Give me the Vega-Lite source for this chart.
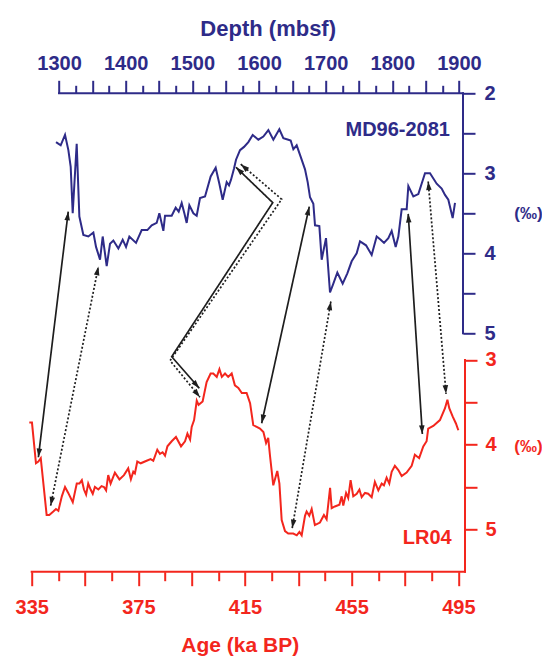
{
  "$schema": "https://vega.github.io/schema/vega-lite/v6.json",
  "width": 433.3,
  "height": 478.4,
  "autosize": {"type": "none"},
  "padding": {"left": 31.7, "top": 93.3, "right": 77, "bottom": 84.3},
  "config": {"view": {"stroke": null}, "font": "Liberation Sans", "axis": {"grid": false}},
  "datasets": {
    "md96": [
      {"depth": 1295.5, "d18O": 2.61}, {"depth": 1302.5, "d18O": 2.65}, {"depth": 1309, "d18O": 2.52}, {"depth": 1314, "d18O": 2.71},
      {"depth": 1317.5, "d18O": 2.92}, {"depth": 1320.5, "d18O": 3.5}, {"depth": 1326.5, "d18O": 2.63}, {"depth": 1330.5, "d18O": 3.54},
      {"depth": 1336.5, "d18O": 3.77}, {"depth": 1344, "d18O": 3.79}, {"depth": 1351.5, "d18O": 3.74}, {"depth": 1355.5, "d18O": 3.92},
      {"depth": 1361.5, "d18O": 4.08}, {"depth": 1365.5, "d18O": 3.79}, {"depth": 1371.5, "d18O": 4.16}, {"depth": 1376.5, "d18O": 3.88},
      {"depth": 1381.5, "d18O": 3.84}, {"depth": 1389, "d18O": 3.94}, {"depth": 1395.5, "d18O": 3.83}, {"depth": 1400.5, "d18O": 3.92},
      {"depth": 1405.5, "d18O": 3.79}, {"depth": 1415.5, "d18O": 3.87}, {"depth": 1424, "d18O": 3.71}, {"depth": 1432.5, "d18O": 3.71},
      {"depth": 1439, "d18O": 3.65}, {"depth": 1446.5, "d18O": 3.62}, {"depth": 1450.5, "d18O": 3.5}, {"depth": 1456.5, "d18O": 3.72},
      {"depth": 1459, "d18O": 3.53}, {"depth": 1469, "d18O": 3.53}, {"depth": 1475, "d18O": 3.43}, {"depth": 1479.5, "d18O": 3.48},
      {"depth": 1484, "d18O": 3.37}, {"depth": 1488, "d18O": 3.5}, {"depth": 1491.5, "d18O": 3.62}, {"depth": 1495.5, "d18O": 3.4},
      {"depth": 1501.5, "d18O": 3.5}, {"depth": 1506.5, "d18O": 3.53}, {"depth": 1511.5, "d18O": 3.31}, {"depth": 1519, "d18O": 3.29},
      {"depth": 1527.5, "d18O": 3.04}, {"depth": 1535, "d18O": 2.93}, {"depth": 1540.5, "d18O": 3.13}, {"depth": 1545.5, "d18O": 3.33},
      {"depth": 1551.5, "d18O": 3.11}, {"depth": 1555, "d18O": 3.15}, {"depth": 1558, "d18O": 3.08}, {"depth": 1562.5, "d18O": 2.94},
      {"depth": 1565.5, "d18O": 2.83}, {"depth": 1571.5, "d18O": 2.71}, {"depth": 1577.5, "d18O": 2.67}, {"depth": 1584, "d18O": 2.61},
      {"depth": 1590.5, "d18O": 2.52}, {"depth": 1599, "d18O": 2.58}, {"depth": 1606.5, "d18O": 2.54}, {"depth": 1614, "d18O": 2.46},
      {"depth": 1621.5, "d18O": 2.58}, {"depth": 1630.5, "d18O": 2.45}, {"depth": 1636.5, "d18O": 2.56}, {"depth": 1644, "d18O": 2.58},
      {"depth": 1647.5, "d18O": 2.59}, {"depth": 1651.5, "d18O": 2.7}, {"depth": 1656.5, "d18O": 2.65}, {"depth": 1661.5, "d18O": 2.77},
      {"depth": 1669, "d18O": 2.95}, {"depth": 1673, "d18O": 3.11}, {"depth": 1676.5, "d18O": 3.3}, {"depth": 1681.5, "d18O": 3.38},
      {"depth": 1684, "d18O": 3.65}, {"depth": 1690.5, "d18O": 3.66}, {"depth": 1694, "d18O": 4.08}, {"depth": 1700.5, "d18O": 3.81},
      {"depth": 1706.5, "d18O": 4.49}, {"depth": 1711.5, "d18O": 4.38}, {"depth": 1717.5, "d18O": 4.24}, {"depth": 1725.5, "d18O": 4.38},
      {"depth": 1732.5, "d18O": 4.25}, {"depth": 1739, "d18O": 4.1}, {"depth": 1746.5, "d18O": 4.0}, {"depth": 1751.5, "d18O": 3.85},
      {"depth": 1760.5, "d18O": 3.9}, {"depth": 1769, "d18O": 4.02}, {"depth": 1776.5, "d18O": 3.79}, {"depth": 1782.5, "d18O": 3.83},
      {"depth": 1787.5, "d18O": 3.87}, {"depth": 1794, "d18O": 3.81}, {"depth": 1799, "d18O": 3.72}, {"depth": 1805, "d18O": 3.92},
      {"depth": 1809, "d18O": 3.79}, {"depth": 1814, "d18O": 3.45}, {"depth": 1821.5, "d18O": 3.45}, {"depth": 1824, "d18O": 3.16},
      {"depth": 1831.5, "d18O": 3.29}, {"depth": 1839, "d18O": 3.26}, {"depth": 1849, "d18O": 3.0}, {"depth": 1856.5, "d18O": 3.0},
      {"depth": 1866.5, "d18O": 3.13}, {"depth": 1874, "d18O": 3.19}, {"depth": 1879, "d18O": 3.27}, {"depth": 1884, "d18O": 3.33},
      {"depth": 1890.5, "d18O": 3.56}, {"depth": 1894, "d18O": 3.37}
    ],
    "lr04": [
      {"age": 334.1, "d18O": 3.74}, {"age": 335.1, "d18O": 3.74}, {"age": 336.6, "d18O": 4.22}, {"age": 337.5, "d18O": 4.2},
      {"age": 338.4, "d18O": 4.16}, {"age": 340.6, "d18O": 4.83}, {"age": 341.6, "d18O": 4.83}, {"age": 343.1, "d18O": 4.79},
      {"age": 344.1, "d18O": 4.76}, {"age": 345.0, "d18O": 4.78}, {"age": 346.3, "d18O": 4.61}, {"age": 347.5, "d18O": 4.5},
      {"age": 348.7, "d18O": 4.57}, {"age": 350.4, "d18O": 4.68}, {"age": 351.9, "d18O": 4.46}, {"age": 352.9, "d18O": 4.46},
      {"age": 353.8, "d18O": 4.42}, {"age": 354.6, "d18O": 4.53}, {"age": 355.4, "d18O": 4.59}, {"age": 356.2, "d18O": 4.46},
      {"age": 357.1, "d18O": 4.53}, {"age": 357.9, "d18O": 4.58}, {"age": 358.7, "d18O": 4.5}, {"age": 360.0, "d18O": 4.53},
      {"age": 361.2, "d18O": 4.49}, {"age": 362.1, "d18O": 4.5}, {"age": 362.9, "d18O": 4.54}, {"age": 363.7, "d18O": 4.36},
      {"age": 364.6, "d18O": 4.46}, {"age": 366.2, "d18O": 4.33}, {"age": 367.9, "d18O": 4.41}, {"age": 369.6, "d18O": 4.36},
      {"age": 371.2, "d18O": 4.28}, {"age": 372.2, "d18O": 4.41}, {"age": 373.1, "d18O": 4.32}, {"age": 373.7, "d18O": 4.34},
      {"age": 374.6, "d18O": 4.2}, {"age": 375.9, "d18O": 4.22}, {"age": 378.1, "d18O": 4.19}, {"age": 379.6, "d18O": 4.17},
      {"age": 380.6, "d18O": 4.19}, {"age": 382.1, "d18O": 4.06}, {"age": 383.1, "d18O": 4.11}, {"age": 384.1, "d18O": 4.09},
      {"age": 385.0, "d18O": 4.13}, {"age": 385.9, "d18O": 4.02}, {"age": 387.5, "d18O": 3.96}, {"age": 389.1, "d18O": 3.91},
      {"age": 391.0, "d18O": 4.02}, {"age": 392.5, "d18O": 3.96}, {"age": 393.4, "d18O": 3.87}, {"age": 394.4, "d18O": 3.94},
      {"age": 395.0, "d18O": 3.79}, {"age": 395.9, "d18O": 3.71}, {"age": 396.9, "d18O": 3.48}, {"age": 397.6, "d18O": 3.53},
      {"age": 399.1, "d18O": 3.49}, {"age": 400.6, "d18O": 3.26}, {"age": 402.1, "d18O": 3.16}, {"age": 403.1, "d18O": 3.16},
      {"age": 404.4, "d18O": 3.2}, {"age": 405.4, "d18O": 3.11}, {"age": 406.3, "d18O": 3.2}, {"age": 407.5, "d18O": 3.16},
      {"age": 408.7, "d18O": 3.2}, {"age": 410.0, "d18O": 3.16}, {"age": 411.2, "d18O": 3.3}, {"age": 412.5, "d18O": 3.33},
      {"age": 413.8, "d18O": 3.39}, {"age": 415.6, "d18O": 3.39}, {"age": 416.9, "d18O": 3.51}, {"age": 418.1, "d18O": 3.77},
      {"age": 419.4, "d18O": 3.79}, {"age": 420.6, "d18O": 3.81}, {"age": 421.9, "d18O": 3.85}, {"age": 422.9, "d18O": 3.98},
      {"age": 423.7, "d18O": 3.92}, {"age": 424.4, "d18O": 4.14}, {"age": 425.6, "d18O": 4.48}, {"age": 427.1, "d18O": 4.31},
      {"age": 427.9, "d18O": 4.46}, {"age": 428.75, "d18O": 4.89}, {"age": 430.0, "d18O": 5.02}, {"age": 431.2, "d18O": 5.05},
      {"age": 433.1, "d18O": 5.05}, {"age": 434.4, "d18O": 5.07}, {"age": 435.4, "d18O": 5.03}, {"age": 436.25, "d18O": 5.07},
      {"age": 437.5, "d18O": 4.84}, {"age": 438.1, "d18O": 4.79}, {"age": 439.1, "d18O": 4.84}, {"age": 440.0, "d18O": 4.76},
      {"age": 441.2, "d18O": 4.95}, {"age": 443.1, "d18O": 4.92}, {"age": 444.6, "d18O": 4.83}, {"age": 445.6, "d18O": 4.88},
      {"age": 446.9, "d18O": 4.51}, {"age": 447.5, "d18O": 4.75}, {"age": 448.7, "d18O": 4.73}, {"age": 450.4, "d18O": 4.71},
      {"age": 451.25, "d18O": 4.61}, {"age": 451.85, "d18O": 4.72}, {"age": 452.9, "d18O": 4.57}, {"age": 453.7, "d18O": 4.63},
      {"age": 454.6, "d18O": 4.42}, {"age": 455.6, "d18O": 4.61}, {"age": 456.9, "d18O": 4.58}, {"age": 457.9, "d18O": 4.53},
      {"age": 458.75, "d18O": 4.62}, {"age": 460.0, "d18O": 4.57}, {"age": 461.2, "d18O": 4.58}, {"age": 462.5, "d18O": 4.62},
      {"age": 463.7, "d18O": 4.44}, {"age": 465.0, "d18O": 4.54}, {"age": 466.25, "d18O": 4.46}, {"age": 467.1, "d18O": 4.48},
      {"age": 468.1, "d18O": 4.39}, {"age": 469.1, "d18O": 4.46}, {"age": 470.0, "d18O": 4.32}, {"age": 471.2, "d18O": 4.25},
      {"age": 472.5, "d18O": 4.3}, {"age": 473.75, "d18O": 4.37}, {"age": 475.6, "d18O": 4.33}, {"age": 477.5, "d18O": 4.25},
      {"age": 478.7, "d18O": 4.12}, {"age": 480.3, "d18O": 4.16}, {"age": 481.85, "d18O": 4.02}, {"age": 483.1, "d18O": 3.96},
      {"age": 483.7, "d18O": 3.81}, {"age": 485.6, "d18O": 3.78}, {"age": 488.1, "d18O": 3.71}, {"age": 490.0, "d18O": 3.57},
      {"age": 490.9, "d18O": 3.47}, {"age": 491.6, "d18O": 3.57}, {"age": 492.9, "d18O": 3.67}, {"age": 494.1, "d18O": 3.75},
      {"age": 495.0, "d18O": 3.83}
    ],
    "arrows": [
      {"id": "a1", "style": "solid", "order": 1, "age": 337.5, "v": 4.149},
      {"id": "a1", "style": "solid", "order": 2, "age": 348.7, "v": 1.249},
      {"id": "a2", "style": "dotted", "order": 1, "age": 342.1, "v": 4.72},
      {"id": "a2", "style": "dotted", "order": 2, "age": 360.0, "v": 1.898},
      {"id": "a3", "style": "solid", "order": 1, "age": 411.6, "v": 0.725},
      {"id": "a3", "style": "solid", "order": 2, "age": 425.4, "v": 1.143},
      {"id": "a3", "style": "solid", "order": 3, "age": 387.5, "v": 2.961},
      {"id": "a3", "style": "solid", "order": 4, "age": 397.85, "v": 3.334},
      {"id": "a4", "style": "dotted", "order": 1, "age": 413.4, "v": 0.689},
      {"id": "a4", "style": "dotted", "order": 2, "age": 428.75, "v": 1.103},
      {"id": "a4", "style": "dotted", "order": 3, "age": 386.9, "v": 3.008},
      {"id": "a4", "style": "dotted", "order": 4, "age": 398.1, "v": 3.44},
      {"id": "a5", "style": "solid", "order": 1, "age": 439.1, "v": 1.19},
      {"id": "a5", "style": "solid", "order": 2, "age": 421.25, "v": 3.747},
      {"id": "a6", "style": "dotted", "order": 1, "age": 447.2, "v": 2.31},
      {"id": "a6", "style": "dotted", "order": 2, "age": 432.7, "v": 4.987},
      {"id": "a7", "style": "solid", "order": 1, "age": 476.2, "v": 1.275},
      {"id": "a7", "style": "solid", "order": 2, "age": 481.5, "v": 3.874},
      {"id": "a8", "style": "dotted", "order": 1, "age": 483.7, "v": 0.893},
      {"id": "a8", "style": "dotted", "order": 2, "age": 490.4, "v": 3.4}
    ]
  },
  "layer": [
    {
      "data": {"name": "md96"},
      "mark": {"type": "line", "color": "#2e2b88", "strokeWidth": 2, "clip": false},
      "encoding": {
        "x": {"field": "depth", "type": "quantitative",
          "scale": {"domain": [1259, 1909], "nice": false, "zero": false},
          "axis": {"orient": "top", "domain": false, "grid": false,
            "values": [1300,1325,1350,1375,1400,1425,1450,1475,1500,1525,1550,1575,1600,1625,1650,1675,1700,1725,1750,1775,1800,1825,1850,1875,1900],
            "format": "d", "labelExpr": "datum.value % 100 === 0 ? datum.label : ''",
            "tickSize": {"condition": {"test": "datum.value % 50 === 0", "value": 13}, "value": 8},
            "tickWidth": 2, "tickColor": "#2e2b88",
            "labelFont": "Liberation Sans", "labelFontSize": 20, "labelFontWeight": "bold", "labelColor": "#2e2b88",
            "labelPadding": 7, "labelFlush": false, "labelOverlap": false, "labelBound": false,
            "title": "Depth (mbsf)", "titleFont": "Liberation Sans", "titleFontSize": 22, "titleFontWeight": "bold",
            "titleColor": "#2e2b88", "titleX": 236, "titleY": -58, "titleAlign": "center", "titleBaseline": "alphabetic"}},
        "y": {"field": "d18O", "type": "quantitative",
          "scale": {"domain": [2, 7.98], "nice": false, "zero": false, "reverse": true},
          "axis": {"orient": "right", "domain": false, "grid": false, "offset": -2,
            "values": [2, 2.5, 3, 3.5, 4, 4.5, 5],
            "labelExpr": "datum.value % 1 === 0 ? datum.label : ''",
            "tickSize": 12, "tickWidth": 2, "tickColor": "#2e2b88",
            "labelFont": "Liberation Sans", "labelFontSize": 20, "labelFontWeight": "bold", "labelColor": "#2e2b88",
            "labelPadding": 9, "labelOverlap": false, "labelBound": false, "labelFlush": false,
            "title": "(‰)", "titleAngle": 0, "titleX": 65, "titleY": 120, "titleAlign": "center", "titleBaseline": "middle",
            "titleFont": "Liberation Sans", "titleFontSize": 17, "titleFontWeight": "bold", "titleColor": "#2e2b88"}}
      }
    },
    {
      "data": {"values": [{}]},
      "mark": {"type": "rule", "color": "#2e2b88", "strokeWidth": 2, "strokeCap": "square"},
      "encoding": {
        "x": {"datum": 1300, "type": "quantitative", "scale": {"domain": [1259, 1909], "nice": false, "zero": false}, "axis": null},
        "x2": {"datum": 1906},
        "y": {"datum": 2, "type": "quantitative", "scale": {"domain": [2, 7.98], "nice": false, "zero": false, "reverse": true}, "axis": null}
      }
    },
    {
      "data": {"values": [{}]},
      "mark": {"type": "rule", "color": "#2e2b88", "strokeWidth": 2, "strokeCap": "square"},
      "encoding": {
        "x": {"datum": 1906, "type": "quantitative", "scale": {"domain": [1259, 1909], "nice": false, "zero": false}, "axis": null},
        "y": {"datum": 2, "type": "quantitative", "scale": {"domain": [2, 7.98], "nice": false, "zero": false, "reverse": true}, "axis": null},
        "y2": {"datum": 5}
      }
    },
    {
      "data": {"values": [{}]},
      "mark": {"type": "text", "text": "MD96-2081", "color": "#2e2b88", "font": "Liberation Sans", "fontSize": 20, "fontWeight": "bold", "align": "right", "baseline": "alphabetic"},
      "encoding": {
        "x": {"datum": 1886.5, "type": "quantitative", "scale": {"domain": [1259, 1909], "nice": false, "zero": false}, "axis": null},
        "y": {"datum": 2.53, "type": "quantitative", "scale": {"domain": [2, 7.98], "nice": false, "zero": false, "reverse": true}, "axis": null}
      }
    },
    {
      "data": {"name": "lr04"},
      "mark": {"type": "line", "color": "#f3261d", "strokeWidth": 2, "clip": false},
      "encoding": {
        "x": {"field": "age", "type": "quantitative",
          "scale": {"domain": [335, 497.5], "nice": false, "zero": false},
          "axis": {"orient": "bottom", "domain": false, "grid": false,
            "values": [335,345,355,365,375,385,395,405,415,425,435,445,455,465,475,485,495],
            "format": "d", "labelExpr": "(datum.value - 335) % 40 === 0 ? datum.label : ''",
            "tickSize": {"condition": {"test": "(datum.value - 335) % 20 === 0", "value": 14}, "value": 9},
            "tickWidth": 2, "tickColor": "#f3261d",
            "labelFont": "Liberation Sans", "labelFontSize": 20, "labelFontWeight": "bold", "labelColor": "#f3261d",
            "labelPadding": 12, "labelFlush": false, "labelOverlap": false, "labelBound": false,
            "title": "Age (ka BP)", "titleFont": "Liberation Sans", "titleFontSize": 21, "titleFontWeight": "bold",
            "titleColor": "#f3261d", "titleX": 208, "titleY": 80, "titleAlign": "center", "titleBaseline": "alphabetic"}},
        "y": {"field": "d18O", "type": "quantitative",
          "scale": {"domain": [-0.148, 5.5], "nice": false, "zero": false, "reverse": true},
          "axis": {"orient": "right", "domain": false, "grid": false,
            "values": [3, 3.5, 4, 4.5, 5],
            "labelExpr": "datum.value % 1 === 0 ? datum.label : ''",
            "tickSize": 12, "tickWidth": 2, "tickColor": "#f3261d",
            "labelFont": "Liberation Sans", "labelFontSize": 20, "labelFontWeight": "bold", "labelColor": "#f3261d",
            "labelPadding": 8, "labelOverlap": false, "labelBound": false, "labelFlush": false,
            "title": "(‰)", "titleAngle": 0, "titleX": 63, "titleY": 352.7, "titleAlign": "center", "titleBaseline": "middle",
            "titleFont": "Liberation Sans", "titleFontSize": 17, "titleFontWeight": "bold", "titleColor": "#f3261d"}}
      }
    },
    {
      "data": {"values": [{}]},
      "mark": {"type": "rule", "color": "#f3261d", "strokeWidth": 2, "strokeCap": "square"},
      "encoding": {
        "x": {"datum": 335, "type": "quantitative", "scale": {"domain": [335, 497.5], "nice": false, "zero": false}, "axis": null},
        "x2": {"datum": 497.5},
        "y": {"datum": 5.5, "type": "quantitative", "scale": {"domain": [-0.148, 5.5], "nice": false, "zero": false, "reverse": true}, "axis": null}
      }
    },
    {
      "data": {"values": [{}]},
      "mark": {"type": "rule", "color": "#f3261d", "strokeWidth": 2, "strokeCap": "square"},
      "encoding": {
        "x": {"datum": 497.5, "type": "quantitative", "scale": {"domain": [335, 497.5], "nice": false, "zero": false}, "axis": null},
        "y": {"datum": 3, "type": "quantitative", "scale": {"domain": [-0.148, 5.5], "nice": false, "zero": false, "reverse": true}, "axis": null},
        "y2": {"datum": 5.5}
      }
    },
    {
      "data": {"values": [{}]},
      "mark": {"type": "text", "text": "LR04", "color": "#f3261d", "font": "Liberation Sans", "fontSize": 20, "fontWeight": "bold", "align": "right", "baseline": "alphabetic"},
      "encoding": {
        "x": {"datum": 492.5, "type": "quantitative", "scale": {"domain": [335, 497.5], "nice": false, "zero": false}, "axis": null},
        "y": {"datum": 5.17, "type": "quantitative", "scale": {"domain": [-0.148, 5.5], "nice": false, "zero": false, "reverse": true}, "axis": null}
      }
    },
    {
      "data": {"name": "arrows"},
      "mark": {"type": "line", "color": "#1e1e1e", "strokeWidth": 1.7, "clip": false},
      "encoding": {
        "x": {"field": "age", "type": "quantitative", "scale": {"domain": [335, 497.5], "nice": false, "zero": false}, "axis": null},
        "y": {"field": "v", "type": "quantitative", "scale": {"domain": [-0.148, 5.5], "nice": false, "zero": false, "reverse": true}, "axis": null},
        "detail": {"field": "id"},
        "order": {"field": "order", "type": "quantitative"},
        "strokeDash": {"field": "style", "type": "nominal", "scale": {"domain": ["solid", "dotted"], "range": [[1, 0], [2, 2]]}, "legend": null}
      }
    },
    {
      "data": {"name": "arrows"},
      "transform": [
        {"window": [
          {"op": "lag", "field": "age", "as": "pa"},
          {"op": "lag", "field": "v", "as": "pv"},
          {"op": "lead", "field": "age", "as": "na"},
          {"op": "lead", "field": "v", "as": "nv"}
        ], "groupby": ["id"], "sort": [{"field": "order"}]},
        {"filter": "datum.pa == null || datum.na == null"},
        {"calculate": "datum.pa == null ? datum.na : datum.pa", "as": "fa"},
        {"calculate": "datum.pa == null ? datum.nv : datum.pv", "as": "fv"},
        {"calculate": "atan2((datum.age - datum.fa) * 2.6667, (datum.fv - datum.v) * 84.7) * 180 / PI", "as": "ang"}
      ],
      "mark": {"type": "point", "shape": "M0,0L-0.32,1L0.32,1Z", "filled": true, "color": "#1e1e1e", "opacity": 1, "size": 300, "clip": false},
      "encoding": {
        "x": {"field": "age", "type": "quantitative", "scale": {"domain": [335, 497.5], "nice": false, "zero": false}, "axis": null},
        "y": {"field": "v", "type": "quantitative", "scale": {"domain": [-0.148, 5.5], "nice": false, "zero": false, "reverse": true}, "axis": null},
        "angle": {"field": "ang", "type": "quantitative", "scale": null}
      }
    }
  ],
  "resolve": {"scale": {"x": "independent", "y": "independent"}, "axis": {"x": "independent", "y": "independent"}}
}
